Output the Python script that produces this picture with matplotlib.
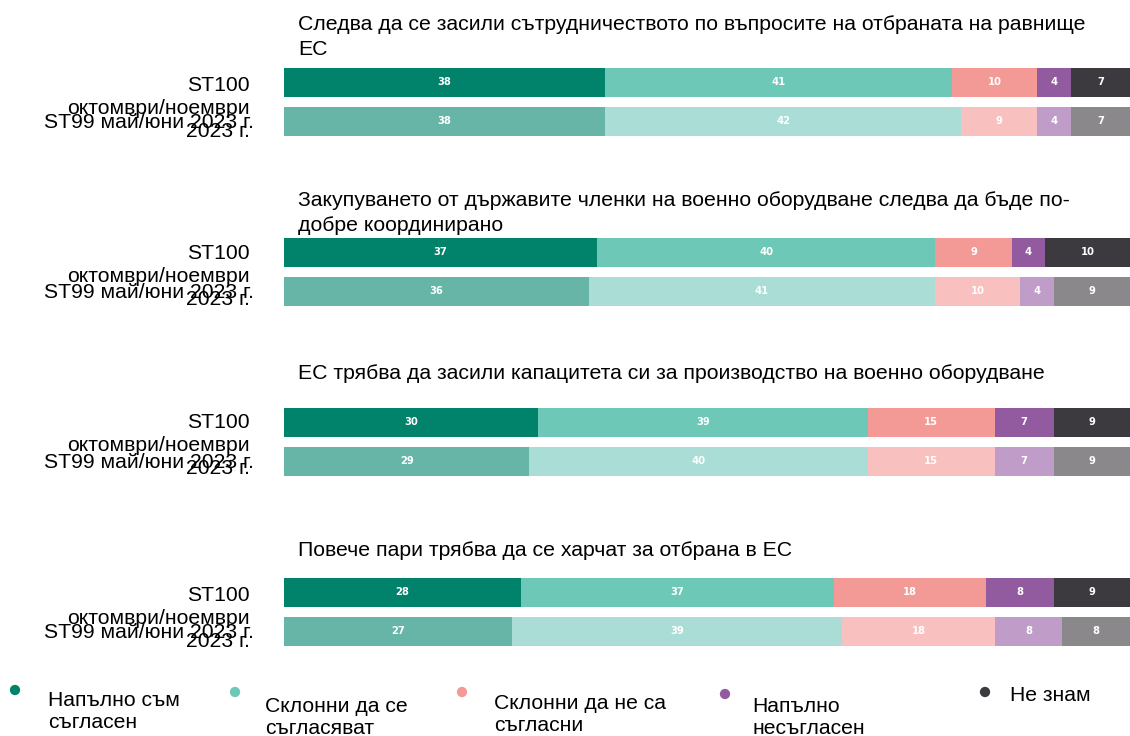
import matplotlib
matplotlib.use("Agg")
import matplotlib.pyplot as plt

plt.rcParams['font.family'] = ['Liberation Sans', 'DejaVu Sans']

questions = [
    "Следва да се засили сътрудничеството по въпросите на отбраната на равнище\nЕС",
    "Закупуването от държавите членки на военно оборудване следва да бъде по-\nдобре координирано",
    "ЕС трябва да засили капацитета си за производство на военно оборудване",
    "Повече пари трябва да се харчат за отбрана в ЕС",
]
categories = ["Напълно съм\nсъгласен", "Склонни да се\nсъгласяват",
              "Склонни да не са\nсъгласни", "Напълно\nнесъгласен", "Не знам"]
wave_new = "ST100\nоктомври/ноември\n2023 г."
wave_old = "ST99 май/юни 2023 г."

st100 = [
    [38, 41, 10, 4, 7],
    [37, 40, 9, 4, 10],
    [30, 39, 15, 7, 9],
    [28, 37, 18, 8, 9],
]
st99 = [
    [38, 42, 9, 4, 7],
    [36, 41, 10, 4, 9],
    [29, 40, 15, 7, 9],
    [27, 39, 18, 8, 8],
]

colors_new = ["#00826B", "#6DC8B7", "#F49A96", "#925BA0", "#3C3A3E"]
colors_old = ["#67B5A7", "#A9DDD5", "#F8C1C0", "#C09DC8", "#8A888A"]

W, H = 1130, 736
fig = plt.figure(figsize=(W / 100, H / 100), dpi=100)

# main axes: x in percent, y in pixel rows (inverted)
x0, x1 = 284, 1130
ax = fig.add_axes([x0 / W, 0, (x1 - x0) / W, 1])
ax.set_xlim(0, 100)
ax.set_ylim(H, 0)
ax.axis('off')

group_top = 67
group_step = 170
bar_h = 30
second_off = 39
# baseline of the last text line, relative to the bar top (multi-line text
# is anchored on its last line with va='baseline')
title_off = [-12, -6, -28, -21]
label_off = [70, 68, 67, 70]
FS = 15.2

for g in range(len(questions)):
    top = group_top + g * group_step
    y1 = top + bar_h / 2
    y2 = y1 + second_off
    for vals, cols, yy in ((st100[g], colors_new, y1), (st99[g], colors_old, y2)):
        left = 0
        for v, c in zip(vals, cols):
            ax.barh(yy, v, left=left, height=bar_h - 1, color=c, edgecolor='none')
            ax.text(left + v / 2, yy, str(v), ha='center', va='center',
                    color='white', fontsize=8, fontweight='bold',
                    family='DejaVu Sans', fontstretch='condensed')
            left += v
    # question title
    ax.text(1.65, top + title_off[g], questions[g], ha='left', va='baseline',
            fontsize=15.3, linespacing=1.4)
    # wave labels
    ax.text(-4.0, top + label_off[g], wave_new, ha='right', va='baseline',
            fontsize=FS, linespacing=1.28, clip_on=False)
    ax.text(-3.6, top + second_off + 22.5, wave_old, ha='right', va='baseline',
            fontsize=FS, clip_on=False)

# legend
lax = fig.add_axes([0, 0, 1, 1])
lax.set_xlim(0, W)
lax.set_ylim(H, 0)
lax.axis('off')
marker_xy = [(15, 690), (235, 692), (462, 692), (725, 694), (985, 692)]
text_xy = [(48, 728), (265, 734), (494, 731), (752, 734), (1010, 701)]
for i, cat in enumerate(categories):
    mx, my = marker_xy[i]
    lax.scatter([mx], [my], s=55, color=colors_new[i], edgecolor='none')
    tx, ty = text_xy[i]
    lax.text(tx, ty, cat, ha='left', va='baseline', fontsize=FS, linespacing=1.22)

fig.savefig("out.png", dpi=100)
